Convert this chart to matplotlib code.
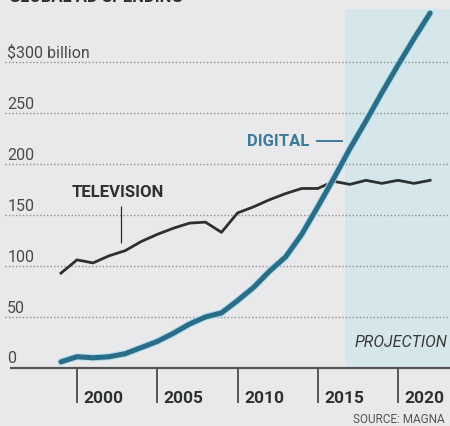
import matplotlib
matplotlib.use("Agg")
import matplotlib.pyplot as plt
import matplotlib.patheffects as pe

# ── Data (global ad spending, $ billion) ─────────────────────────────────────
years = [1999, 2000, 2001, 2002, 2003, 2004, 2005, 2006, 2007, 2008, 2009,
         2010, 2011, 2012, 2013, 2014, 2015, 2016, 2017, 2018, 2019, 2020,
         2021, 2022]
television = [93, 106, 103, 110, 115, 124, 131, 137, 142, 143, 133,
              152, 158, 165, 171, 176, 176, 183, 180, 184, 181, 184,
              181, 184]
digital = [6, 11, 10, 11, 14, 20, 26, 34, 43, 50, 54,
           66, 79, 95, 109, 131, 158, 186, 215, 242, 270, 297,
           323, 348]

grid_values = [50, 100, 150, 200, 250, 300]
grid_labels = ["50", "100", "150", "200", "250", "$300 billion"]
tick_years = [2000, 2005, 2010, 2015, 2020]
projection_start = 2016.7

# ── Styles ───────────────────────────────────────────────────────────────────
BG = "#e9e9ec"
SHADE = "#d6e7eb"
DARK = "#2d3030"
AXIS = "#555555"
BLUE = "#2b6c87"
LABEL_BLUE = "#3c7a9c"
plt.rcParams["font.family"] = ["Roboto", "DejaVu Sans"]

fig = plt.figure(figsize=(4.5, 4.26), dpi=100)
fig.patch.set_facecolor(BG)
ax = fig.add_axes([0, 0, 1, 1])
ax.set_facecolor(BG)
ax.set_xlim(1995.20, 2023.24)
ax.set_ylim(-56.9, 360.8)
ax.axis("off")

# projection shading
ax.axvspan(projection_start, 2024, ymin=(0 + 56.9) / 417.7, ymax=(352 + 56.9) / 417.7,
           color=SHADE, lw=0, zorder=0)

# gridlines + y labels
ax.hlines(grid_values, 1995.5, 2024, colors="#8f8f8f", linestyles=(0, (1, 1.5)),
          lw=1.0, zorder=1)
for v, lab in zip(grid_values, grid_labels):
    ax.text(1995.65, v + 4, lab, fontsize=11.5, color="#4a4a4a", va="baseline", ha="left")
ax.text(1995.65, 5, "0", fontsize=11.5, color="#4a4a4a", va="baseline", ha="left")

# baseline and year ticks
ax.hlines(0, 1995.8, 2024, colors=AXIS, lw=1.6, zorder=2)
ax.vlines(tick_years, -34, 0, colors=AXIS, lw=1.4, zorder=2)
for y in tick_years:
    ax.text(y + 0.4, -34, str(y), fontsize=12.5, fontweight="bold", color=DARK,
            va="baseline", ha="left")

# series
ax.plot(years, television, color=DARK, lw=2.0, zorder=3, solid_joinstyle="round")
ax.plot(years, digital, color=BLUE, lw=3.6, zorder=4, solid_capstyle="round",
        solid_joinstyle="round",
        path_effects=[pe.Stroke(linewidth=5.0, foreground="#a8dcec"), pe.Normal()])

# annotations
ax.text(2002.55, 171.6, "TELEVISION", fontsize=12, fontweight="bold", color=DARK,
        ha="center", va="center")
ax.vlines(2002.74, 122.5, 158.8, colors=DARK, lw=0.9)
ax.text(2012.55, 221.6, "DIGITAL", fontsize=12, fontweight="bold", color=LABEL_BLUE,
        ha="center", va="center")
ax.hlines(222.5, 2014.89, 2016.57, colors=LABEL_BLUE, lw=1.4)
ax.text(2023.05, 24.5, "PROJECTION", fontsize=11.5, style="italic", color="#3a3a3a",
        ha="right", va="center")
ax.text(2017.2, -51, "SOURCE: MAGNA", fontsize=8.5, color="#555555",
        ha="left", va="center")
ax.text(1995.75, 359, "GLOBAL AD SPENDING", fontsize=12, fontweight="bold",
        color=DARK, ha="left", va="baseline")

fig.savefig("out.png", dpi=100, facecolor=BG)
